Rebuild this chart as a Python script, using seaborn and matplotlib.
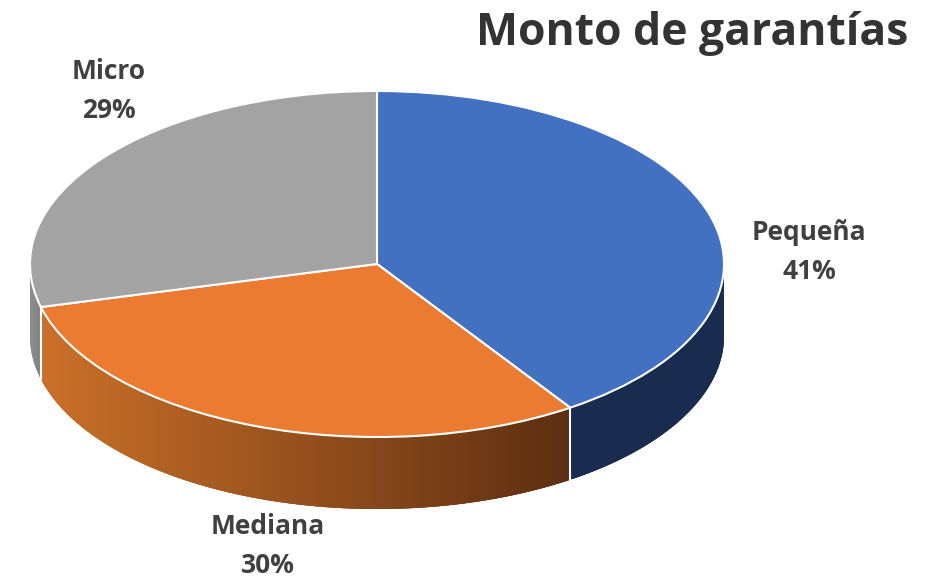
import numpy as np
import matplotlib
matplotlib.use("Agg")
import matplotlib.pyplot as plt
import matplotlib.colors as mc
import seaborn as sns

categories = ["Pequeña", "Mediana", "Micro"]
shares = [40.6, 30.4, 29.0]
title = "Monto de garantías"

sns.set_theme(style="white")
plt.rcParams['font.family'] = ['Open Sans', 'DejaVu Sans']
top_colors = ["#4371C2", "#EA7B30", "#A3A3A3"]
side_left = ["#192C50", "#CB7029", "#8E8E8E"]
side_right = ["#192C50", "#5C2E11", "#808080"]

W, H = 933, 579
cx, cy, rx, ry, depth = 377, 264, 347, 173, 72
fig = plt.figure(figsize=(W/100, H/100), dpi=100)
ax = fig.add_axes([0, 0, 1, 1])

# side wall: painted left to right, each slice overlapping the next
fr = np.cumsum([0] + shares) / sum(shares)
d = depth / ry
for i in range(3):
    t0, t1 = fr[i]*2*np.pi, fr[i+1]*2*np.pi
    lo, hi = max(t0, np.pi/2), min(t1, 3*np.pi/2)
    if lo >= hi:
        continue
    n = 150
    ts = np.linspace(hi, lo, n+1)
    xmin, xmax = sorted((np.sin(hi), np.sin(lo)))
    c0, c1 = mc.to_rgb(side_left[i]), mc.to_rgb(side_right[i])
    for j in range(n):
        seg = np.linspace(ts[j], ts[min(j+3, n)], 5)
        xs = np.sin(seg)
        ys = np.cos(seg)
        f = (xs[0]-xmin)/(xmax-xmin)
        col = tuple(a + (b-a)*f for a, b in zip(c0, c1))
        ax.fill(np.r_[xs, xs[::-1]], np.r_[ys, ys[::-1]-d], color=col, lw=0, zorder=1+j*1e-4)

# white seams
for f in fr:
    t = f*2*np.pi
    if np.cos(t) < 0:
        ax.plot([np.sin(t)]*2, [np.cos(t), np.cos(t)-d], color="white", lw=1.5, zorder=2)

wedges, _ = ax.pie(shares, colors=top_colors, startangle=90, counterclock=False, radius=1,
                   wedgeprops=dict(edgecolor="white", linewidth=1.5))
for w in wedges:
    w.set_zorder(3)

ax.set_aspect("auto")
ax.set_xlim(-cx/rx, (W-cx)/rx)
ax.set_ylim(-(H-cy)/ry, cy/ry)
ax.axis("off")

def px(x, y):
    return (x-cx)/rx, (cy-y)/ry

label_pos = [(809, 252), (268, 546), (109, 91)]
for name, s, (x, y) in zip(categories, shares, label_pos):
    ax.text(*px(x, y), f"{name}\n{s:.0f}%", ha="center", va="center", fontsize=19,
            fontweight="bold", color="#404040", linespacing=1.58, zorder=5)
ax.text(*px(908, 34), title, ha="right", va="center", fontsize=32,
        fontweight="bold", color="#333333", zorder=5)

fig.savefig("out.png", dpi=100, facecolor="white")
